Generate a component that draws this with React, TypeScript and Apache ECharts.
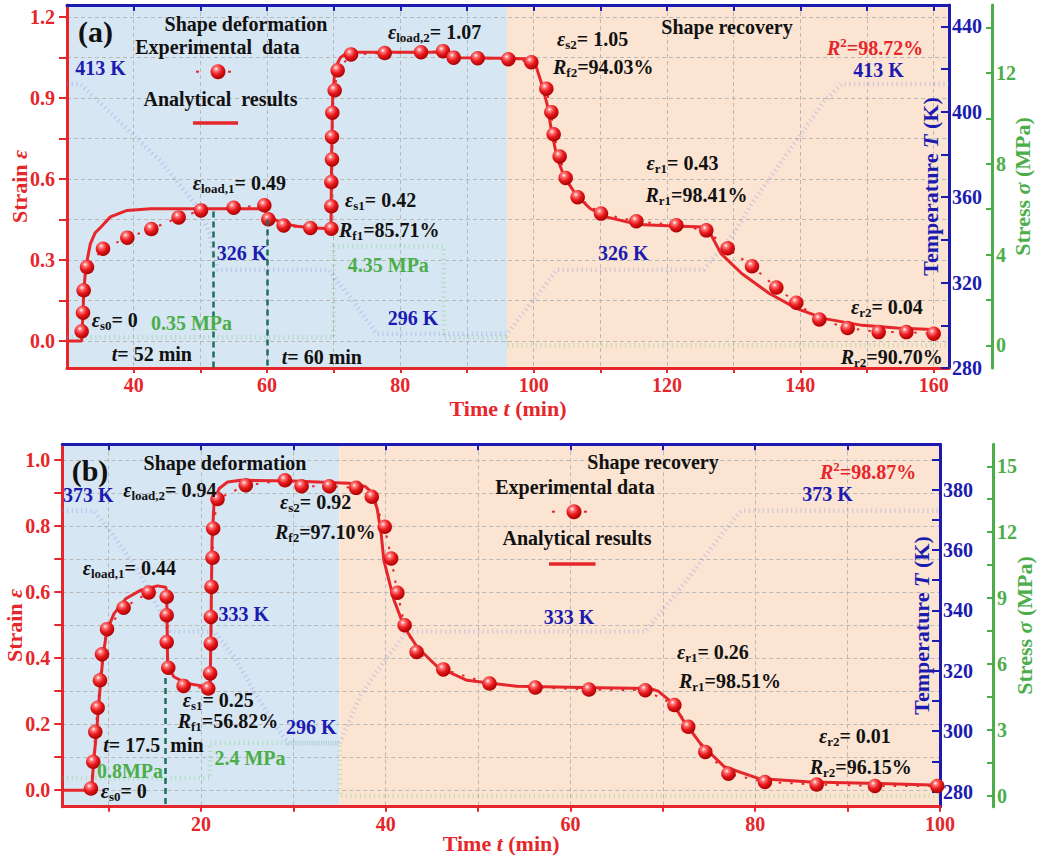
import React, { useEffect, useRef } from 'react';
import * as echarts from 'echarts';

// ---------------- Panel (a) data ----------------
const aExpT = [32.2, 32.4, 32.5, 33.0, 35.4, 39.05, 42.65, 46.75, 50.1, 55.0, 59.6, 60.2, 62.5, 66.5, 69.65, 69.65, 69.65, 69.75, 69.75, 69.8, 70.15, 70.6, 72.6, 77.65, 83.1, 86.4, 88.0, 91.6, 96.2, 99.65, 101.9, 102.65, 103.0, 103.9, 104.8, 106.6, 110.1, 115.4, 121.4, 125.9, 129.1, 132.75, 136.4, 139.4, 142.85, 147.1, 151.75, 155.9, 160.0];
const aExpS = [0.036, 0.105, 0.188, 0.274, 0.342, 0.383, 0.415, 0.458, 0.484, 0.494, 0.503, 0.451, 0.428, 0.419, 0.416, 0.499, 0.589, 0.673, 0.756, 0.846, 0.929, 1.003, 1.062, 1.067, 1.070, 1.074, 1.050, 1.048, 1.044, 1.033, 0.935, 0.848, 0.766, 0.684, 0.604, 0.533, 0.472, 0.444, 0.429, 0.410, 0.344, 0.277, 0.198, 0.142, 0.080, 0.048, 0.033, 0.033, 0.027];
const aFitT = [30, 32.2, 32.35, 32.5, 32.7, 32.95, 33.5, 34.2, 35, 36.5, 39, 42.5, 59.5, 60, 61, 62.5, 64.5, 66.5, 69.6, 69.7, 69.85, 70.1, 70.4, 71, 71.8, 72.5, 86.5, 87.5, 89, 95, 99.5, 100.2, 101.2, 102, 102.75, 103.5, 104.6, 106.4, 108.5, 111, 115.7, 120.9, 125.5, 126.5, 128.1, 131.2, 135.35, 139.5, 143.6, 149.3, 154.5, 160.6];
const aFitS = [0, 0, 0.08, 0.17, 0.24, 0.29, 0.36, 0.40, 0.42, 0.46, 0.484, 0.49, 0.49, 0.47, 0.452, 0.435, 0.425, 0.42, 0.416, 0.7, 0.9, 0.98, 1.02, 1.05, 1.065, 1.07, 1.07, 1.056, 1.05, 1.048, 1.045, 1.03, 0.953, 0.879, 0.768, 0.681, 0.607, 0.54, 0.49, 0.459, 0.432, 0.426, 0.422, 0.398, 0.324, 0.25, 0.176, 0.12, 0.083, 0.058, 0.048, 0.042];
const aTempT = [30, 32, 38, 44, 49.9, 51.4, 52.1, 52.6, 69.2, 72.5, 76.5, 96, 100, 103.5, 125.5, 130, 132.5, 139.5, 143.6, 146.2, 162.3];
const aTempK = [413, 413, 395, 377, 354, 343, 331, 326, 326, 313, 296, 296, 312, 326, 326, 343, 356, 387, 405, 413, 413];
const aStressT = [30, 70, 70, 86.5, 86.5, 96, 96, 162.3];
const aStressV = [0.35, 0.35, 4.35, 4.35, 0.35, 0.35, 0, 0];
const aLoadT = [52, 60];
const aLoadTop = [0.48, 0.45];
const aPhaseT = [30, 96, 162.3];
const aTickX = [40, 50, 60, 70, 80, 90, 100, 110, 120, 130, 140, 150, 160];
const aLabelX = [40, 60, 80, 100, 120, 140, 160];
const aTickY = [0, 0.15, 0.3, 0.45, 0.6, 0.75, 0.9, 1.05, 1.2];
const aLabelY = [0, 0.3, 0.6, 0.9, 1.2];
const aTickTemp = [280, 300, 320, 340, 360, 380, 400, 420, 440];
const aLabelTemp = [280, 320, 360, 400, 440];
const aTickStress = [0, 2, 4, 6, 8, 10, 12, 14];
const aLabelStress = [0, 4, 8, 12];

// ---------------- Panel (b) data ----------------
const bExpT = [8.1, 8.35, 8.57, 8.83, 9.08, 9.3, 9.84, 11.64, 14.35, 16.3, 16.3, 16.3, 16.47, 18.13, 20.8, 21.0, 21.08, 21.08, 21.15, 21.26, 21.33, 21.8, 24.86, 29.1, 30.9, 33.9, 36.8, 38.5, 39.9, 40.6, 41.27, 42.05, 43.35, 46.24, 51.24, 56.2, 62.0, 68.1, 71.25, 72.75, 74.6, 77.1, 81.05, 86.65, 92.95, 99.7];
const bExpS = [0.005, 0.086, 0.177, 0.25, 0.333, 0.412, 0.488, 0.553, 0.599, 0.586, 0.53, 0.449, 0.371, 0.316, 0.308, 0.354, 0.444, 0.525, 0.616, 0.704, 0.793, 0.882, 0.924, 0.939, 0.921, 0.921, 0.916, 0.889, 0.798, 0.702, 0.598, 0.5, 0.419, 0.366, 0.323, 0.311, 0.305, 0.303, 0.258, 0.192, 0.116, 0.05, 0.025, 0.017, 0.013, 0.013];
const bFitT = [5, 8.1, 8.25, 8.4, 8.72, 8.94, 9.19, 9.44, 9.84, 10.6, 11.9, 13.5, 15.3, 16.2, 16.3, 16.35, 16.4, 17.1, 18.56, 20.7, 21.0, 21.1, 21.2, 21.44, 21.98, 22.9, 24.3, 30, 36, 37.8, 38.6, 39.1, 39.5, 39.8, 40.9, 42, 43.4, 45.6, 48.8, 54.2, 61.4, 68.6, 69.5, 71.1, 72.2, 74.05, 76.65, 80.4, 86, 93.4, 100];
const bFitS = [0, 0, 0.03, 0.09, 0.18, 0.26, 0.34, 0.414, 0.485, 0.535, 0.581, 0.606, 0.619, 0.615, 0.6, 0.5, 0.374, 0.343, 0.323, 0.313, 0.313, 0.5, 0.75, 0.879, 0.914, 0.934, 0.939, 0.937, 0.93, 0.92, 0.9, 0.85, 0.78, 0.697, 0.576, 0.495, 0.434, 0.374, 0.333, 0.315, 0.311, 0.308, 0.3, 0.263, 0.212, 0.142, 0.071, 0.035, 0.025, 0.02, 0.015];
const bTempT = [5, 8.4, 10.5, 13, 15, 16.7, 21.4, 23.5, 26, 28, 29.5, 35, 37.3, 39.8, 42.3, 68.1, 72.6, 76.3, 78.5, 100];
const bTempK = [373, 373, 365, 354, 343, 333, 333, 325, 312, 302, 296, 296, 312, 323, 333, 333, 350, 365, 373, 373];
const bStressT = [5, 21, 21, 35, 35, 100];
const bStressV = [0.8, 0.8, 2.4, 2.4, 0, 0];
const bLoadT = [16.1];
const bLoadTop = [0.34];
const bPhaseT = [5, 35, 100];
const bTickX = [10, 20, 30, 40, 50, 60, 70, 80, 90, 100];
const bLabelX = [20, 40, 60, 80, 100];
const bTickY = [0, 0.1, 0.2, 0.3, 0.4, 0.5, 0.6, 0.7, 0.8, 0.9, 1.0];
const bLabelY = [0, 0.2, 0.4, 0.6, 0.8, 1.0];
const bTickTemp = [280, 290, 300, 310, 320, 330, 340, 350, 360, 370, 380, 390];
const bLabelTemp = [280, 300, 320, 340, 360, 380];
const bTickStress = [0, 1.5, 3, 4.5, 6, 7.5, 9, 10.5, 12, 13.5, 15];
const bLabelStress = [0, 3, 6, 9, 12, 15];

// ---------------- styles ----------------
const FONT = '"Liberation Serif", "Times New Roman", Times, serif';
const RED = '#e5262b';
const BLUE = '#1b1bb0';
const GREEN = '#4cae4a';
const TEAL = '#1e6e5c';
const BG_BLUE = '#d7e6f3';
const BG_ORANGE = '#fbe4d2';
const GRID_C = '#b9b9b9';
const TEMP_C = 'rgba(125,135,230,0.32)';
const STRESS_C = 'rgba(100,195,100,0.30)';

const pairs = (xs: number[], ys: number[]) => xs.map((x, i) => [x, ys[i]]);

const ball = () =>
  new echarts.graphic.RadialGradient(0.38, 0.32, 0.7, [
    { offset: 0, color: '#ffffff' },
    { offset: 0.2, color: '#ff7a7a' },
    { offset: 0.55, color: '#e81a1e' },
    { offset: 1, color: '#a80000' },
  ]);

const RICH = (c: string) => ({
  n: { fontSize: 20, fontWeight: 'bold', fontFamily: FONT, fill: c, color: c, lineHeight: 24 },
  i: { fontSize: 20, fontWeight: 'bold', fontStyle: 'italic', fontFamily: FONT, fill: c, color: c, lineHeight: 24 },
  big: { fontSize: 30, fontWeight: 'bold', fontFamily: FONT, fill: c, color: c, lineHeight: 32 },
  sub: { fontSize: 13, fontWeight: 'bold', fontFamily: FONT, fill: c, color: c, lineHeight: 10, verticalAlign: 'bottom' },
  sup: { fontSize: 13, fontWeight: 'bold', fontFamily: FONT, fill: c, color: c, lineHeight: 10, verticalAlign: 'top' },
});

function txt(x: number, y: number, text: string, color = '#111', align = 'left') {
  return {
    type: 'text', x, y, z: 100, silent: true,
    style: { text, rich: RICH(color), fill: color, fontSize: 20, fontWeight: 'bold', fontFamily: FONT, align, verticalAlign: 'middle' },
  };
}
const eps = (sub: string, val: string) => `{i|ε}{sub|${sub}}{n|= ${val}}`;
const rr = (sub: string, val: string) => `{i|R}{sub|${sub}}{n|=${val}}`;
const r2 = (val: string) => `{i|R}{sup|2}{n|=${val}}`;

function legendMarks(bx: number, by: number, lx1: number, lx2: number, ly: number) {
  return [
    { type: 'line', z: 100, shape: { x1: bx - 22, y1: by, x2: bx - 19, y2: by }, style: { stroke: RED, lineWidth: 2 } },
    { type: 'line', z: 100, shape: { x1: bx + 10, y1: by, x2: bx + 13, y2: by }, style: { stroke: RED, lineWidth: 2 } },
    { type: 'circle', z: 101, shape: { cx: bx, cy: by, r: 7.5 }, style: { fill: ball() } },
    { type: 'line', z: 100, shape: { x1: lx1, y1: ly, x2: lx2, y2: ly }, style: { stroke: RED, lineWidth: 3.5 } },
  ];
}

const labelStyle = (color: string, extra: any = {}) => ({ color, fontSize: 20, fontWeight: 'bold', fontFamily: FONT, ...extra });
const nameStyle = (color: string) => ({
  color, fontSize: 22, fontWeight: 'bold', fontFamily: FONT,
  rich: { i: { color, fontSize: 22, fontWeight: 'bold', fontStyle: 'italic', fontFamily: FONT } },
});
const splitStyle = { show: true, lineStyle: { color: GRID_C, type: [4, 3], width: 1 } };

function xBottom(grid: number, min: number, max: number, ticks: number[], labels: number[], gap: number) {
  return {
    gridIndex: grid, type: 'value', position: 'bottom', min, max, z: 1.5,
    axisLine: { show: true, onZero: false, lineStyle: { color: RED, width: 3 } },
    axisTick: { show: true, inside: false, length: 5, lineStyle: { color: RED, width: 2 }, customValues: ticks },
    axisLabel: { ...labelStyle(RED, { margin: 7 }), customValues: labels, formatter: (v: number) => String(v) },
    splitLine: splitStyle,
    name: 'Time {i|t} (min)', nameLocation: 'middle', nameGap: gap, nameMoveOverlap: false, nameTextStyle: nameStyle(RED),
  };
}
function xTop(grid: number, min: number, max: number, ticks: number[]) {
  return {
    gridIndex: grid, type: 'value', position: 'top', min, max, z: 1.5,
    axisLine: { show: true, onZero: false, lineStyle: { color: BLUE, width: 3 } },
    axisTick: { show: true, inside: true, length: 6, lineStyle: { color: BLUE, width: 2 }, customValues: ticks },
    axisLabel: { show: false },
    splitLine: { show: false },
  };
}
function yStrain(grid: number, min: number, max: number, ticks: number[], labels: number[]) {
  return {
    gridIndex: grid, type: 'value', position: 'left', min, max, z: 1.5,
    axisLine: { show: true, onZero: false, lineStyle: { color: RED, width: 3 } },
    axisTick: { show: true, inside: false, length: 8, lineStyle: { color: RED, width: 2 }, customValues: ticks },
    axisLabel: { ...labelStyle(RED, { margin: 12 }), customValues: labels, formatter: (v: number) => v.toFixed(1) },
    splitLine: splitStyle,
    name: 'Strain {i|ε}', nameLocation: 'middle', nameGap: 37, nameRotate: 90, nameMoveOverlap: false, nameTextStyle: nameStyle(RED),
  };
}
function yTemp(grid: number, min: number, max: number, ticks: number[], labels: number[]) {
  return {
    gridIndex: grid, type: 'value', position: 'right', offset: 0, min, max, z: 1.5,
    axisLine: { show: true, onZero: false, lineStyle: { color: BLUE, width: 3 } },
    axisTick: { show: true, inside: true, length: 8, lineStyle: { color: BLUE, width: 2 }, customValues: ticks },
    axisLabel: { ...labelStyle(BLUE, { margin: 3 }), customValues: labels, formatter: (v: number) => String(v) },
    splitLine: { show: false },
    name: 'Temperature {i|T} (K)', nameLocation: 'middle', nameGap: -30, nameRotate: 90, nameMoveOverlap: false, nameTextStyle: nameStyle(BLUE),
  };
}
function yStress(grid: number, min: number, max: number, ticks: number[], labels: number[], offset: number, gap: number) {
  return {
    gridIndex: grid, type: 'value', position: 'right', offset, min, max, z: 1.5,
    axisLine: { show: true, onZero: false, lineStyle: { color: GREEN, width: 3 } },
    axisTick: { show: true, inside: true, length: 6, lineStyle: { color: GREEN, width: 2 }, customValues: ticks },
    axisLabel: { ...labelStyle(GREEN, { margin: 4 }), customValues: labels, formatter: (v: number) => String(v) },
    splitLine: { show: false },
    name: 'Stress {i|σ} (MPa)', nameLocation: 'middle', nameGap: gap, nameRotate: 90, nameMoveOverlap: false, nameTextStyle: nameStyle(GREEN),
  };
}

function panelSeries(xi: number, yS: number, yT: number, yP: number, phase: number[], loadT: number[], loadTop: number[], yMin: number,
  expT: number[], expS: number[], fitT: number[], fitS: number[], tT: number[], tK: number[], sT: number[], sV: number[]) {
  return [
    {
      type: 'line', xAxisIndex: xi, yAxisIndex: yS, data: [], z: 1, silent: true,
      markArea: {
        silent: true, label: { show: false },
        data: [
          [{ xAxis: phase[0], itemStyle: { color: BG_BLUE } }, { xAxis: phase[1] }],
          [{ xAxis: phase[1], itemStyle: { color: BG_ORANGE } }, { xAxis: phase[2] }],
        ],
      },
    },
    {
      type: 'line', xAxisIndex: xi, yAxisIndex: yT, data: pairs(tT, tK), z: 2, silent: true, symbol: 'none',
      lineStyle: { color: TEMP_C, width: 4.5, type: [1.2, 3.5] },
    },
    {
      type: 'line', xAxisIndex: xi, yAxisIndex: yP, data: pairs(sT, sV), z: 2, silent: true, symbol: 'none',
      lineStyle: { color: STRESS_C, width: 4.5, type: [1.2, 3.5] },
    },
    {
      type: 'line', xAxisIndex: xi, yAxisIndex: yS, data: pairs(fitT, fitS), z: 3, silent: true, symbol: 'none',
      lineStyle: { color: RED, width: 3 },
      markLine: {
        silent: true, symbol: ['none', 'none'], label: { show: false },
        lineStyle: { color: TEAL, type: [6, 4], width: 2.5 },
        data: loadT.map((t, i) => [{ coord: [t, loadTop[i]] }, { coord: [t, yMin] }]),
      },
    },
    {
      type: 'line', xAxisIndex: xi, yAxisIndex: yS, data: pairs(expT, expS), z: 4, silent: true,
      symbol: 'circle', symbolSize: 14.5, showSymbol: true,
      itemStyle: { color: ball() },
      lineStyle: { color: RED, width: 2, type: [2.5, 9] },
    },
  ];
}

function buildOption(): any {
  const graphics: any[] = [
    // panel (a)
    txt(95.5, 31.7, '{big|(a)}', '#111', 'center'),
    txt(246, 24, '{n|Shape deformation}', '#111', 'center'),
    txt(217.5, 46.7, '{n|Experimental  data}', '#111', 'center'),
    txt(220.5, 99, '{n|Analytical  results}', '#111', 'center'),
    ...legendMarks(218, 71.7, 193, 238, 123),
    txt(100.5, 68.3, '{n|413 K}', BLUE, 'center'),
    txt(388, 31.7, eps('load,2', '1.07')),
    txt(557, 39.3, eps('s2', '1.05')),
    txt(553, 66.7, rr('f2', '94.03%')),
    txt(727, 26.7, '{n|Shape recovery}', '#111', 'center'),
    txt(827, 48.3, r2('98.72%'), RED),
    txt(878.5, 70, '{n|413 K}', BLUE, 'center'),
    txt(646.6, 163.3, eps('r1', '0.43')),
    txt(645.5, 195, rr('r1', '98.41%')),
    txt(623.3, 253.3, '{n|326 K}', BLUE, 'center'),
    txt(851, 306.7, eps('r2', '0.04')),
    txt(840.7, 356.7, rr('r2', '90.70%')),
    txt(192.7, 183.3, eps('load,1', '0.49')),
    txt(345, 200, eps('s1', '0.42')),
    txt(339, 230, rr('f1', '85.71%')),
    txt(242, 253.3, '{n|326 K}', BLUE, 'center'),
    txt(388.3, 265, '{n|4.35 MPa}', GREEN, 'center'),
    txt(413, 318.3, '{n|296 K}', BLUE, 'center'),
    txt(91.7, 320, eps('s0', '0')),
    txt(191.5, 323.3, '{n|0.35 MPa}', GREEN, 'center'),
    txt(111.7, 354, '{i|t}{n|= 52 min}'),
    txt(281.7, 357.3, '{i|t}{n|= 60 min}'),
    // panel (b)
    txt(90, 470, '{big|(b)}', '#111', 'center'),
    txt(225, 463.3, '{n|Shape deformation}', '#111', 'center'),
    txt(88.3, 495, '{n|373 K}', BLUE, 'center'),
    txt(123.3, 490, eps('load,2', '0.94')),
    txt(280, 501.7, eps('s2', '0.92')),
    txt(275, 531.7, rr('f2', '97.10%')),
    txt(82.7, 568.3, eps('load,1', '0.44')),
    txt(243.8, 614, '{n|333 K}', BLUE, 'center'),
    txt(182.7, 699.5, eps('s1', '0.25')),
    txt(177.7, 720.5, rr('f1', '56.82%')),
    txt(311.2, 726.7, '{n|296 K}', BLUE, 'center'),
    txt(103.3, 745, '{i|t}{n|= 17.5  min}'),
    txt(250, 757.5, '{n|2.4 MPa}', GREEN, 'center'),
    txt(130, 771, '{n|0.8MPa}', GREEN, 'center'),
    txt(100.7, 791, eps('s0', '0')),
    txt(653, 462.3, '{n|Shape recovery}', '#111', 'center'),
    txt(575, 487.3, '{n|Experimental data}', '#111', 'center'),
    txt(577, 538.3, '{n|Analytical results}', '#111', 'center'),
    ...legendMarks(574, 511.7, 549, 595.5, 564),
    txt(820, 472.3, r2('98.87%'), RED),
    txt(827.5, 494.3, '{n|373 K}', BLUE, 'center'),
    txt(569, 616.7, '{n|333 K}', BLUE, 'center'),
    txt(677, 651.7, eps('r1', '0.26')),
    txt(679, 680.7, rr('r1', '98.51%')),
    txt(819, 736, eps('r2', '0.01')),
    txt(809.7, 767.3, rr('r2', '96.15%')),
  ];

  return {
    animation: false,
    backgroundColor: '#ffffff',
    textStyle: { fontFamily: FONT },
    grid: [
      { left: 67, top: 5, width: 882, height: 363, containLabel: false, outerBoundsMode: 'none' },
      { left: 62.3, top: 444.3, width: 877.7, height: 362.4, containLabel: false, outerBoundsMode: 'none' },
    ],
    xAxis: [
      xBottom(0, 30, 162.3, aTickX, aLabelX, 29),
      xTop(0, 30, 162.3, aTickX),
      xBottom(1, 5, 100, bTickX, bLabelX, 26),
      xTop(1, 5, 100, bTickX),
    ],
    yAxis: [
      yStrain(0, -0.1, 1.245, aTickY, aLabelY),
      yTemp(0, 280, 450, aTickTemp, aLabelTemp),
      yStress(0, -1, 15, aTickStress, aLabelStress, 43, 19),
      yStrain(1, -0.05, 1.048, bTickY, bLabelY),
      yTemp(1, 275, 395, bTickTemp, bLabelTemp),
      yStress(1, -0.5, 16, bTickStress, bLabelStress, 53, 20),
    ],
    series: [
      ...panelSeries(0, 0, 1, 2, aPhaseT, aLoadT, aLoadTop, -0.1, aExpT, aExpS, aFitT, aFitS, aTempT, aTempK, aStressT, aStressV),
      ...panelSeries(2, 3, 4, 5, bPhaseT, bLoadT, bLoadTop, -0.05, bExpT, bExpS, bFitT, bFitS, bTempT, bTempK, bStressT, bStressV),
    ],
    graphic: { elements: graphics },
  };
}

export default function App() {
  const ref = useRef<HTMLDivElement>(null);
  useEffect(() => {
    document.body.style.margin = '0';
    const chart = echarts.init(ref.current as HTMLDivElement, null, { renderer: 'svg' });
    chart.setOption(buildOption());
    return () => chart.dispose();
  }, []);
  return <div ref={ref} style={{ position: 'absolute', left: 0, top: 0, width: 1038, height: 859, background: '#fff' }} />;
}
